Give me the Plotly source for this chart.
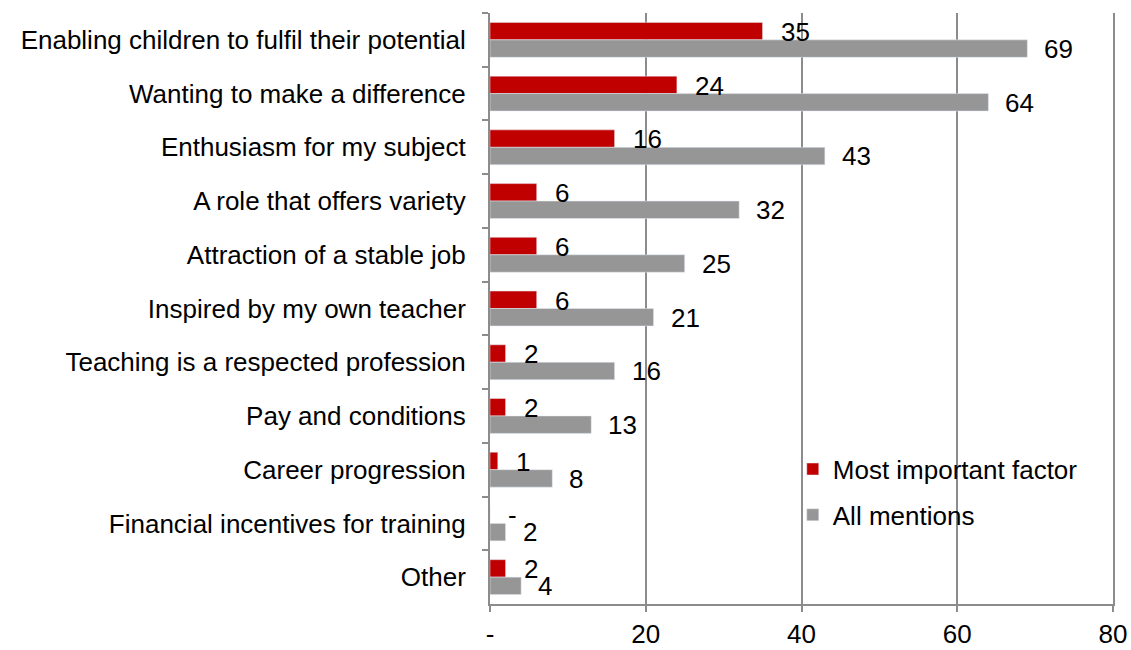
import plotly.graph_objects as go

categories = [
    "Enabling children to fulfil their potential",
    "Wanting to make a difference",
    "Enthusiasm for my subject",
    "A role that offers variety",
    "Attraction of a stable job",
    "Inspired by my own teacher",
    "Teaching is a respected profession",
    "Pay and conditions",
    "Career progression",
    "Financial incentives for training",
    "Other",
]
most_important = [35, 24, 16, 6, 6, 6, 2, 2, 1, 0, 2]
all_mentions = [69, 64, 43, 32, 25, 21, 16, 13, 8, 2, 4]
x_tickvals = [0, 20, 40, 60, 80]
x_ticktext = ["-", "20", "40", "60", "80"]

RED = "#C00000"
GRAY = "#969696"
AXIS = "#8C8C8C"
FONT = "Liberation Sans, Arial, sans-serif"
FS = 26

def fmt(v):
    return "-" if v == 0 else str(v)

fig = go.Figure()
fig.add_trace(go.Bar(y=categories, x=most_important, orientation="h",
                     name="Most important factor", marker=dict(color=RED),
                     legendgroup="a"))
fig.add_trace(go.Bar(y=categories, x=all_mentions, orientation="h",
                     name="All mentions", marker=dict(color=GRAY),
                     legendgroup="b"))

annotations = []
for c, v in zip(categories, most_important):
    annotations.append(dict(x=v, y=c, text=fmt(v), showarrow=False, xanchor="left",
                            yanchor="middle", xshift=16, yshift=8,
                            font=dict(family=FONT, size=FS, color="black")))
for c, v in zip(categories, all_mentions):
    annotations.append(dict(x=v, y=c, text=fmt(v), showarrow=False, xanchor="left",
                            yanchor="middle", xshift=15, yshift=-9,
                            font=dict(family=FONT, size=FS, color="black")))

fig.update_layout(
    width=1131, height=650,
    margin=dict(l=490, r=18, t=13, b=46, autoexpand=False),
    paper_bgcolor="white", plot_bgcolor="white",
    barmode="group", bargap=0.35, bargroupgap=0,
    font=dict(family=FONT, size=FS, color="black"),
    annotations=annotations,
    showlegend=True,
    legend=dict(x=0.486, y=0.268, xanchor="left", yanchor="top",
                bgcolor="rgba(0,0,0,0)", font=dict(family=FONT, size=FS, color="black"),
                tracegroupgap=9, itemwidth=30, traceorder="grouped"),
)
fig.update_xaxes(range=[0, 80], tickvals=x_tickvals, ticktext=x_ticktext,
                 showgrid=True, gridcolor=AXIS, gridwidth=2,
                 showline=True, linecolor=AXIS, linewidth=2,
                 ticks="outside", ticklen=6, tickcolor=AXIS, tickwidth=2,
                 zeroline=False, automargin=False,
                 tickfont=dict(family=FONT, size=FS, color="black"))
fig.update_yaxes(autorange="reversed", showgrid=False,
                 showline=True, linecolor=AXIS, linewidth=2, mirror=True,
                 ticks="outside", tickson="boundaries", ticklen=6, tickcolor=AXIS, tickwidth=2,
                 ticklabelstandoff=17, automargin=False,
                 tickfont=dict(family=FONT, size=FS, color="black"))

fig.write_html("out.html", config={"displayModeBar": False},
               post_script="document.body.style.margin='0';document.body.style.overflow='hidden';")
